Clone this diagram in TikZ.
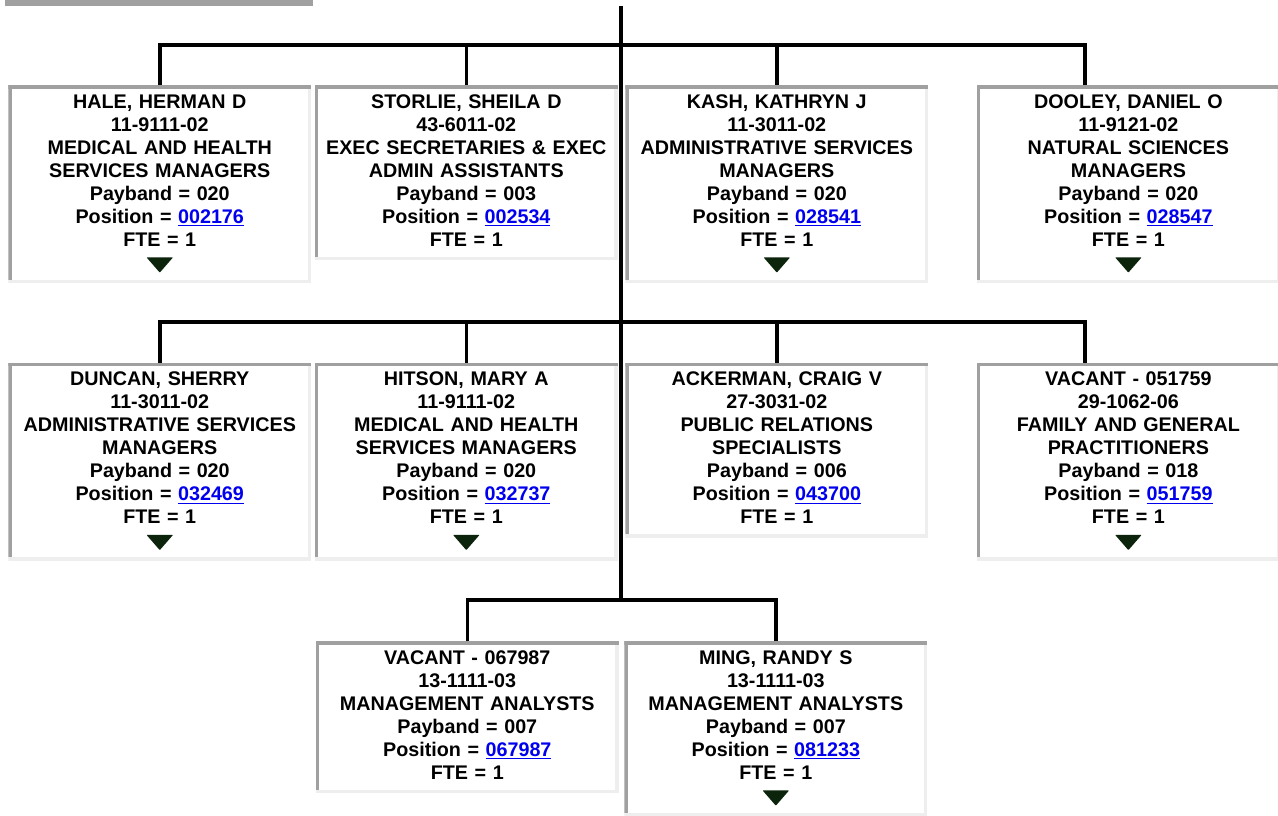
\documentclass[tikz,border=0pt]{standalone}
\usepackage{fontspec}
\setmainfont{Liberation Sans}
\usetikzlibrary{positioning}
\definecolor{EdgeDark}{RGB}{160,160,160}
\definecolor{EdgeLight}{RGB}{238,238,238}
\definecolor{TriGreen}{RGB}{12,36,12}
\definecolor{LinkBlue}{RGB}{0,0,238}
\newcommand{\poslink}[1]{\textcolor{LinkBlue}{\underline{#1}}}
\newcommand{\cardedges}{%
\fill[EdgeLight] (path picture bounding box.south west) rectangle ([yshift=2.5pt]path picture bounding box.south east);
\fill[EdgeLight] ([xshift=-2.5pt]path picture bounding box.south east) rectangle (path picture bounding box.north east);
\fill[EdgeDark] ([yshift=-2.5pt]path picture bounding box.north west) rectangle (path picture bounding box.north east);
\fill[EdgeDark] ([yshift=2.5pt]path picture bounding box.south west) rectangle ([xshift=2.5pt]path picture bounding box.north west);}
\newcommand{\cardtri}{%
\fill[TriGreen, rounded corners=0.6pt] ([shift={(-10pt,19.5pt)}]path picture bounding box.south) -- ++(20pt,0) -- ++(-10pt,-11.5pt) -- cycle;}

\begin{document}
\begin{tikzpicture}[x=0.75pt,y=-0.75pt]

\tikzset{
card/.style={
fill=white,
anchor=north,
text width=227.25pt,
inner xsep=0pt,
inner ysep=5.25pt,
align=center,
font=\fontsize{14.8pt}{17.25pt}\selectfont\bfseries,
execute at begin node=\strut,
execute at end node=\strut,
path picture={\cardedges}
},
cardmore/.style={
card,
execute at end node={\\\strut},
path picture={\cardedges\cardtri}
},
wire/.style={line width=2.7pt}
}

\useasboundingbox (0,0) rectangle (1278,815);

\fill[EdgeDark] (5,0) rectangle (313,5.5);

\coordinate (top) at (621,6);
\coordinate (j1) at (621,45);
\coordinate (j2) at (621,322);
\coordinate (j3) at (621,600);

\node[cardmore, anchor=north west] (hale) at (8,85)
{HALE, HERMAN D\\11-9111-02\\MEDICAL AND HEALTH\\SERVICES MANAGERS\\Payband = 020\\Position = \poslink{002176}\\FTE = 1};

\node[card, right=2.25pt of hale.north east, anchor=north west] (storlie)
{STORLIE, SHEILA D\\43-6011-02\\EXEC SECRETARIES \& EXEC\\ADMIN ASSISTANTS\\Payband = 003\\Position = \poslink{002534}\\FTE = 1};

\node[cardmore, right=5.25pt of storlie.north east, anchor=north west] (kash)
{KASH, KATHRYN J\\11-3011-02\\ADMINISTRATIVE SERVICES\\MANAGERS\\Payband = 020\\Position = \poslink{028541}\\FTE = 1};

\node[cardmore, right=36pt of kash.north east, anchor=north west] (dooley)
{DOOLEY, DANIEL O\\11-9121-02\\NATURAL SCIENCES\\MANAGERS\\Payband = 020\\Position = \poslink{028547}\\FTE = 1};

\node[cardmore, below=59.25pt of hale] (duncan)
{DUNCAN, SHERRY\\11-3011-02\\ADMINISTRATIVE SERVICES\\MANAGERS\\Payband = 020\\Position = \poslink{032469}\\FTE = 1};

\node[cardmore, right=2.25pt of duncan.north east, anchor=north west] (hitson)
{HITSON, MARY A\\11-9111-02\\MEDICAL AND HEALTH\\SERVICES MANAGERS\\Payband = 020\\Position = \poslink{032737}\\FTE = 1};

\node[card, right=5.25pt of hitson.north east, anchor=north west] (ackerman)
{ACKERMAN, CRAIG V\\27-3031-02\\PUBLIC RELATIONS\\SPECIALISTS\\Payband = 006\\Position = \poslink{043700}\\FTE = 1};

\node[cardmore, right=36pt of ackerman.north east, anchor=north west] (vacantfam)
{VACANT - 051759\\29-1062-06\\FAMILY AND GENERAL\\PRACTITIONERS\\Payband = 018\\Position = \poslink{051759}\\FTE = 1};

\node[card, below=60pt of hitson, xshift=0.75pt] (vacantmgt)
{VACANT - 067987\\13-1111-03\\MANAGEMENT ANALYSTS\\Payband = 007\\Position = \poslink{067987}\\FTE = 1};

\node[cardmore, right=3.75pt of vacantmgt.north east, anchor=north west] (ming)
{MING, RANDY S\\13-1111-03\\MANAGEMENT ANALYSTS\\Payband = 007\\Position = \poslink{081233}\\FTE = 1};

\draw[wire] (top) -- (j3);

\draw[wire] (hale.north) |- (j1) -| ([xshift=-32.6pt]dooley.north);
\draw[wire] (storlie.north) -- (storlie.north |- j1);
\draw[wire] (kash.north) -- (kash.north |- j1);

\draw[wire] (duncan.north) |- (j2) -| ([xshift=-32.6pt]vacantfam.north);
\draw[wire] (hitson.north) -- (hitson.north |- j2);
\draw[wire] (ackerman.north) -- (ackerman.north |- j2);

\draw[wire] (vacantmgt.north) |- (j3) -| (ming.north);

\end{tikzpicture}
\end{document}
